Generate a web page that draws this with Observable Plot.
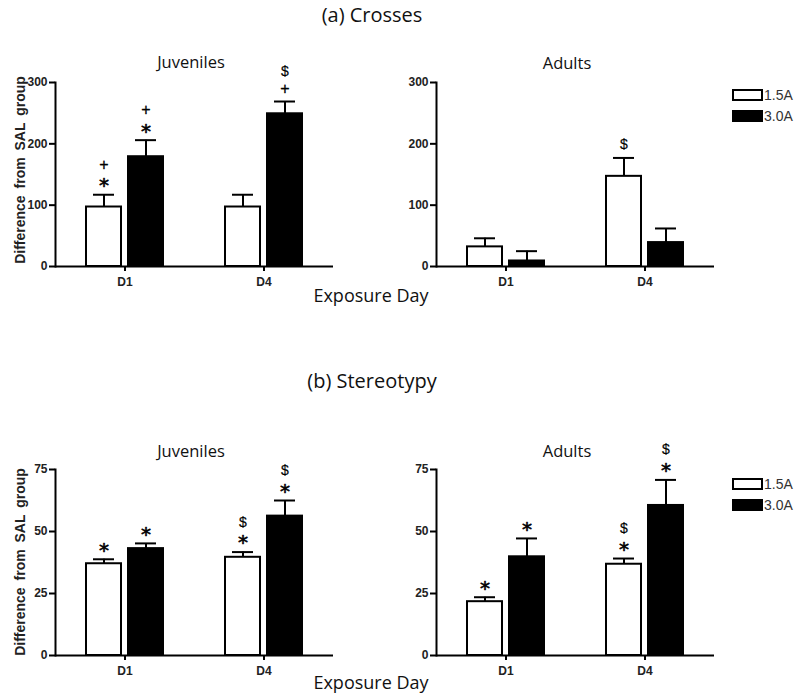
<!DOCTYPE html>
<html><head><meta charset="utf-8">
<script src="https://cdn.jsdelivr.net/npm/d3@7"></script>
<script src="https://cdn.jsdelivr.net/npm/@observablehq/plot@0.6"></script>
<style>
body{margin:0;background:#fff;}
#root{position:relative;width:800px;height:696px;overflow:hidden;font-family:"Open Sans",sans-serif;}
.panel{position:absolute;}
.lbl{position:absolute;white-space:nowrap;transform:translate(-50%,-50%);color:#111;line-height:1;}
.ylab{position:absolute;white-space:nowrap;transform:translate(-50%,-50%) rotate(-90deg);font-family:"Liberation Sans",Arial,sans-serif;font-weight:bold;font-size:14px;color:#222;line-height:1;word-spacing:3px;}
.leg{position:absolute;display:flex;align-items:center;font-family:"Liberation Sans",Arial,sans-serif;font-size:14px;color:#333;line-height:1;}
.sw{width:27px;height:8px;border:2px solid #000;margin-right:1px;box-sizing:content-box;}
</style></head><body><div id="root"></div>
<script>
// ---- data ----
const days = ["D1", "D4"];
const series = ["1.5A", "3.0A"];
const seriesColors = ["white", "black"];
// bar order: D1·1.5A, D1·3.0A, D4·1.5A, D4·3.0A
const barDay = ["D1", "D1", "D4", "D4"];
const barSeries = ["1.5A", "3.0A", "1.5A", "3.0A"];

const crossesJuvMean = [97, 179, 97, 249];
const crossesJuvSem  = [20, 27, 20, 20];
const crossesJuvSig  = ["*+", "*+", "", "+$"];

const crossesAdMean = [32, 9, 147, 39];
const crossesAdSem  = [14, 16, 30, 23];
const crossesAdSig  = ["", "", "$", ""];

const stereoJuvMean = [37, 43.1, 39.6, 56.2];
const stereoJuvSem  = [1.8, 2.1, 2.1, 6.3];
const stereoJuvSig  = ["*", "*", "*$", "*$"];

const stereoAdMean = [21.7, 39.8, 36.8, 60.5];
const stereoAdSem  = [1.8, 7.4, 2.3, 10.3];
const stereoAdSig  = ["*", "*", "*$", "*$"];

const crossesTicks = [0, 100, 200, 300];
const stereoTicks = [0, 25, 50, 75];

const figureTitles = ["(a) Crosses", "(b) Stereotypy"];
const panelTitles = ["Juveniles", "Adults"];
const xTitle = "Exposure Day";
const yTitle = "Difference from  SAL group";

// ---- helpers ----
const root = document.getElementById("root");
function rowsOf(mean, sem, sig) {
  return mean.map((m, i) => ({day: barDay[i], series: barSeries[i], mean: m, sem: sem[i], sig: sig[i]}));
}
const symStyle = {
  "*": {fontFamily: "DejaVu Sans", fontSize: 20, shift: 4, strokeWidth: 0.6},
  "+": {fontFamily: "Liberation Sans", fontSize: 16, shift: 0, strokeWidth: 0.3},
  "$": {fontFamily: "Liberation Sans", fontSize: 14, shift: 0, strokeWidth: 0.2}
};

function panel({rows, yMax, yTicks, left, top, width, height, marginTop, marginBottom, marginLeft}) {
  const ann = rows.flatMap(r => Array.from(r.sig, (sym, level) => ({...r, sym, level})));
  const annMarks = [];
  for (const sym of Object.keys(symStyle)) {
    for (const level of [0, 1]) {
      const data = ann.filter(d => d.sym === sym && d.level === level);
      if (!data.length) continue;
      const s = symStyle[sym];
      annMarks.push(Plot.text(data, {
        fx: "day", x: "series", y: d => d.mean + d.sem, text: "sym",
        dy: -(13 + 17 * level) + s.shift, lineAnchor: "middle",
        fontFamily: s.fontFamily, fontSize: s.fontSize, fill: "black",
        stroke: "black", strokeWidth: s.strokeWidth
      }));
    }
  }
  const svg = Plot.plot({
    width, height, marginTop, marginBottom, marginLeft, marginRight: 2,
    style: {background: "transparent", fontFamily: "Liberation Sans, Arial, sans-serif", overflow: "visible"},
    fx: {domain: days, padding: 0, label: null},
    x: {domain: series, paddingInner: 0.16, paddingOuter: 0.6965, axis: null},
    y: {domain: [0, yMax], label: null},
    color: {domain: series, range: seriesColors},
    marks: [
      Plot.barY(rows, {fx: "day", x: "series", y: "mean", fill: "series", stroke: "black", strokeWidth: 2}),
      Plot.ruleX(rows, {fx: "day", x: "series", y1: "mean", y2: d => d.mean + d.sem, stroke: "black", strokeWidth: 2}),
      Plot.tickY(rows, {fx: "day", x: "series", y: d => d.mean + d.sem, stroke: "black", strokeWidth: 2, inset: 7}),
      Plot.ruleY([0], {stroke: "black", strokeWidth: 2}),
      Plot.frame({anchor: "left", facetAnchor: "left", stroke: "black", strokeWidth: 2}),
      Plot.axisY({ticks: yTicks, tickSize: 6, tickPadding: 2, strokeWidth: 2, stroke: "black",
        fontSize: 12, fontWeight: "bold", fill: "#222", label: null}),
      Plot.axisFx({anchor: "bottom", tickSize: 5, tickPadding: 6, strokeWidth: 2, stroke: "black",
        fontSize: 12, fontWeight: "bold", fill: "#222", label: null}),
      ...annMarks
    ]
  });
  const div = document.createElement("div");
  div.className = "panel";
  div.style.left = left + "px";
  div.style.top = top + "px";
  div.appendChild(svg);
  root.appendChild(div);
}

function label(text, x, y, size, cls = "lbl") {
  const d = document.createElement("div");
  d.className = cls;
  d.textContent = text;
  d.style.left = x + "px";
  d.style.top = y + "px";
  if (size) d.style.fontSize = size + "px";
  root.appendChild(d);
}

function legend(y) {
  series.forEach((s, i) => {
    const d = document.createElement("div");
    d.className = "leg";
    d.style.left = "732px";
    d.style.top = (y + i * 21.5 - 7.5) + "px";
    d.style.height = "15px";
    const sw = document.createElement("div");
    sw.className = "sw";
    sw.style.background = seriesColors[i];
    d.appendChild(sw);
    d.appendChild(document.createTextNode(s));
    root.appendChild(d);
  });
}

// ---- row (a) ----
const topRow = {top: 55, height: 241, marginTop: 27, marginBottom: 30};
panel({rows: rowsOf(crossesJuvMean, crossesJuvSem, crossesJuvSig), yMax: 300, yTicks: crossesTicks,
  left: 0, width: 335, marginLeft: 55, ...topRow});
panel({rows: rowsOf(crossesAdMean, crossesAdSem, crossesAdSig), yMax: 300, yTicks: crossesTicks,
  left: 380, width: 336, marginLeft: 56, ...topRow});

// ---- row (b) ----
const botRow = {top: 444, height: 252, marginTop: 25, marginBottom: 41};
panel({rows: rowsOf(stereoJuvMean, stereoJuvSem, stereoJuvSig), yMax: 75, yTicks: stereoTicks,
  left: 0, width: 335, marginLeft: 55, ...botRow});
panel({rows: rowsOf(stereoAdMean, stereoAdSem, stereoAdSig), yMax: 75, yTicks: stereoTicks,
  left: 380, width: 336, marginLeft: 56, ...botRow});

// ---- texts ----
label(figureTitles[0], 372, 15, 20);
label(figureTitles[1], 372, 381, 20);
label(panelTitles[0], 191, 62, 16.5);
label(panelTitles[1], 567, 63, 16.5);
label(panelTitles[0], 191, 451, 16.5);
label(panelTitles[1], 567, 451, 16.5);
label(xTitle, 371, 295, 18);
label(xTitle, 371, 682, 18);
label(yTitle, 20, 170, null, "ylab");
label(yTitle, 20, 562, null, "ylab");
legend(94.5);
legend(483.5);
</script></body></html>
